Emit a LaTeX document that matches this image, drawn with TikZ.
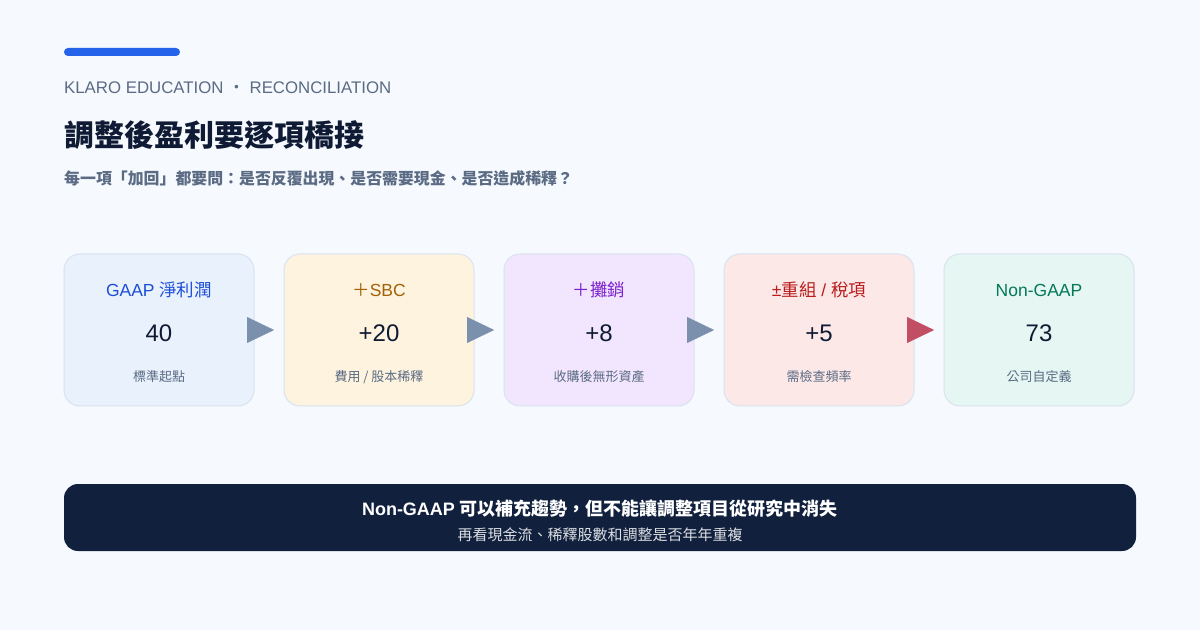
\documentclass[tikz,border=0pt]{standalone}
\usepackage{fontspec}
\setmainfont{Liberation Sans}
\newfontfamily\cjk{Noto Sans CJK TC}
\usetikzlibrary{arrows.meta,positioning}

\definecolor{pagebg}{HTML}{F6F9FD}
\definecolor{accent}{HTML}{2563EB}
\definecolor{ink}{HTML}{0F1B35}
\definecolor{muted}{HTML}{5B6B84}
\definecolor{cardline}{HTML}{D8E3F0}
\definecolor{flowgray}{HTML}{7B90AD}
\definecolor{flowred}{HTML}{C24E63}
\definecolor{navy}{HTML}{10203D}
\definecolor{gaapfill}{HTML}{E8F1FC}
\definecolor{gaapink}{HTML}{1D4ED8}
\definecolor{sbcfill}{HTML}{FEF3DE}
\definecolor{sbcink}{HTML}{A2620A}
\definecolor{amortfill}{HTML}{F1E6FD}
\definecolor{amortink}{HTML}{7E22CE}
\definecolor{restrfill}{HTML}{FDE8E8}
\definecolor{restrink}{HTML}{B91C1C}
\definecolor{nongaapfill}{HTML}{E6F6F2}
\definecolor{nongaapink}{HTML}{047857}

\begin{document}
\begin{tikzpicture}[x=1pt, y=1pt,
  card/.style={draw=cardline, line width=1pt, outer sep=0pt, rounded corners=16pt, minimum width=190pt, minimum height=152pt, inner sep=0pt, text=ink, font=\fontsize{24}{29}\selectfont, text height=23pt, text depth=0pt},
  head/.style={inner sep=0pt, font=\fontsize{17.5}{20}\selectfont},
  note/.style={inner sep=0pt, text=muted, font=\cjk\fontsize{13}{15}\selectfont},
  flow/.style={-{Triangle[length=27pt, width=26pt]}, line width=0.1pt, draw=flowgray},
  banner/.style={fill=navy, rounded corners=14pt, minimum width=1072pt, minimum height=67pt, inner sep=0pt},
]
  \useasboundingbox[fill=pagebg] (0,0) rectangle (1200,630);

  % header
  \fill[accent, rounded corners=4pt] (64,574) rectangle (180,582);
  \node[anchor=west, inner sep=0pt, text=muted, font=\fontsize{16.8}{19}\selectfont] (brand) at (64,542) {KLARO EDUCATION {\cjk ·} RECONCILIATION};
  \node[anchor=west, inner sep=0pt, text=ink, font=\cjk\fontsize{30}{36}\selectfont\bfseries] (title) at (64,495) {調整後盈利要逐項橋接};
  \node[anchor=west, inner sep=0pt, text=muted, font=\cjk\fontsize{15.9}{18}\selectfont\bfseries] (subtitle) at (64,452) {每一項「加回」都要問：是否反覆出現、是否需要現金、是否造成稀釋？};

  % bridge cards
  \node[card, fill=gaapfill] (gaap) at (159,300) {40};
  \node[card, fill=sbcfill, right=30pt of gaap] (sbc) {+20};
  \node[card, fill=amortfill, right=30pt of sbc] (amort) {+8};
  \node[card, fill=restrfill, right=30pt of amort] (restr) {+5};
  \node[card, fill=nongaapfill, right=30pt of restr] (nongaap) {73};

  \node[head, text=gaapink] (gaaphead) at ([yshift=-36pt]gaap.north) {GAAP {\cjk 淨利潤}};
  \node[head, text=sbcink] (sbchead) at ([yshift=-36pt]sbc.north) {{\cjk ＋}SBC};
  \node[head, text=amortink, font=\cjk\fontsize{17.5}{20}\selectfont] (amorthead) at ([yshift=-36pt]amort.north) {＋攤銷};
  \node[head, text=restrink] (restrhead) at ([yshift=-36pt]restr.north) {±{\cjk 重組} / {\cjk 稅項}};
  \node[head, text=nongaapink] (nongaaphead) at ([yshift=-36pt]nongaap.north) {Non-GAAP};

  \node[note] (gaapnote) at ([yshift=29pt]gaap.south) {標準起點};
  \node[note] (sbcnote) at ([yshift=29pt]sbc.south) {費用 / 股本稀釋};
  \node[note] (amortnote) at ([yshift=29pt]amort.south) {收購後無形資產};
  \node[note] (restrnote) at ([yshift=29pt]restr.south) {需檢查頻率};
  \node[note] (nongaapnote) at ([yshift=29pt]nongaap.south) {公司自定義};

  \draw[flow] ([xshift=-7pt]gaap.east) -- ([xshift=-10pt]sbc.west);
  \draw[flow] ([xshift=-7pt]sbc.east) -- ([xshift=-10pt]amort.west);
  \draw[flow] ([xshift=-7pt]amort.east) -- ([xshift=-10pt]restr.west);
  \draw[flow, draw=flowred] ([xshift=-7pt]restr.east) -- ([xshift=-10pt]nongaap.west);

  % takeaway
  \node[banner] (banner) at (600,112.5) {};
  \node[inner sep=0pt, text=white, font=\fontsize{18}{21}\selectfont\bfseries] (bannerhead) at ([yshift=8.5pt]banner.center) {Non-GAAP {\cjk 可以補充趨勢，但不能讓調整項目從研究中消失}};
  \node[inner sep=0pt, text=white!85!navy, font=\cjk\fontsize{15}{18}\selectfont] (bannernote) at ([yshift=-17.5pt]banner.center) {再看現金流、稀釋股數和調整是否年年重複};
\end{tikzpicture}
\end{document}
